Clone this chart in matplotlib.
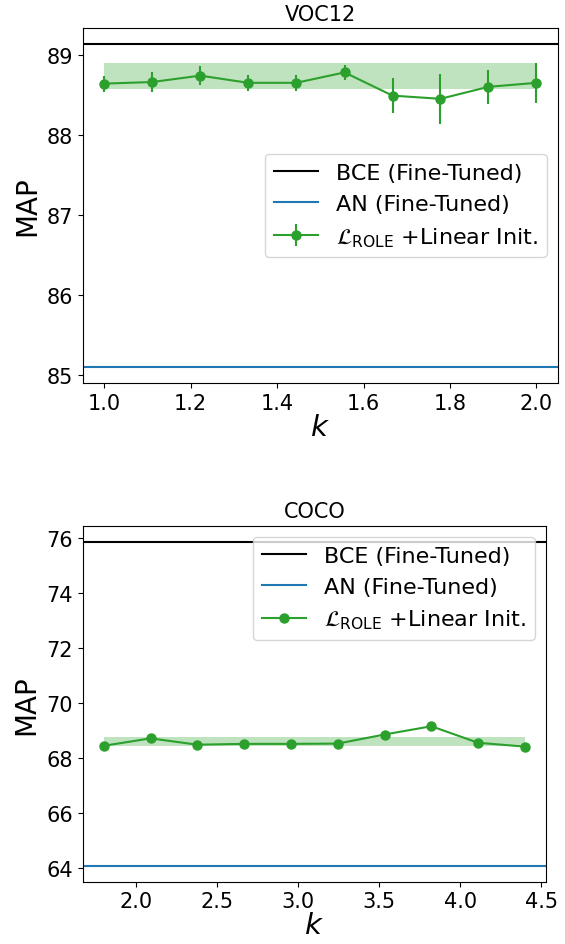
import matplotlib

matplotlib.use("Agg")
import matplotlib.pyplot as plt
import numpy as np

# VOC12 sweep over k
voc_k = [1.0, 1.111, 1.222, 1.333, 1.444, 1.556, 1.667, 1.778, 1.889, 2.0]
voc_map = [88.64, 88.66, 88.74, 88.65, 88.65, 88.78, 88.49, 88.45, 88.60, 88.65]
voc_err = [0.10, 0.12, 0.12, 0.10, 0.10, 0.09, 0.22, 0.31, 0.21, 0.25]
voc_band = (88.57, 88.90)
voc_bce = 89.13
voc_an = 85.10

# COCO sweep over k
coco_k = [1.8, 2.089, 2.378, 2.667, 2.956, 3.244, 3.533, 3.822, 4.111, 4.4]
coco_map = [68.44, 68.71, 68.48, 68.51, 68.51, 68.52, 68.85, 69.15, 68.55, 68.41]
coco_band = (68.42, 68.77)
coco_bce = 75.85
coco_an = 64.09

ROLE_LABEL = r"$\mathcal{L}_{\rm ROLE}$ +Linear Init."
GREEN = "tab:green"

plt.rcParams["font.size"] = 15

fig = plt.figure(figsize=(5.65, 9.45), dpi=100)
ax1 = fig.add_axes([0.1464, 0.5937, 0.8412, 0.3753])
ax2 = fig.add_axes([0.1464, 0.0659, 0.82, 0.3768])

# ---- VOC12 ---------------------------------------------------------------
ax1.axhline(voc_bce, color="black", lw=1.5, label="BCE (Fine-Tuned)")
ax1.axhline(voc_an, color="tab:blue", lw=1.5, label="AN (Fine-Tuned)")
ax1.fill_between(voc_k, voc_band[0], voc_band[1], color=GREEN, alpha=0.3, lw=0)
ax1.errorbar(voc_k, voc_map, yerr=voc_err, color=GREEN, marker="o",
             markersize=6.5, lw=1.5, elinewidth=1.5, label=ROLE_LABEL)
ax1.set_title("VOC12", fontsize=15)
ax1.set_xlabel("$k$", fontsize=21, labelpad=0)
ax1.set_ylabel("MAP", fontsize=20)
ax1.set_yticks([85, 86, 87, 88, 89])
ax1.legend(loc="center right", fontsize=16)

# ---- COCO ----------------------------------------------------------------
ax2.axhline(coco_bce, color="black", lw=1.5, label="BCE (Fine-Tuned)")
ax2.axhline(coco_an, color="tab:blue", lw=1.5, label="AN (Fine-Tuned)")
ax2.fill_between(coco_k, coco_band[0], coco_band[1], color=GREEN, alpha=0.3, lw=0)
ax2.plot(coco_k, coco_map, color=GREEN, marker="o", markersize=6.5, lw=1.5,
         label=ROLE_LABEL)
ax2.set_title("COCO", fontsize=15)
ax2.set_xlabel("$k$", fontsize=21, labelpad=0)
ax2.set_ylabel("MAP", fontsize=20)
ax2.set_yticks(np.arange(64, 77, 2))
ax2.legend(loc="upper right", fontsize=16)

fig.savefig("out.png", dpi=100)
